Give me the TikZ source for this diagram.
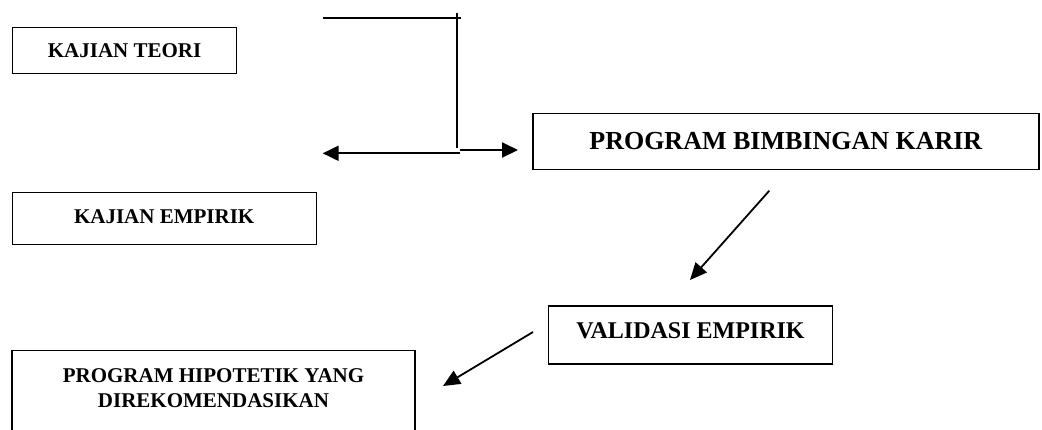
\documentclass[tikz,border=0pt]{standalone}
\usepackage{fontspec}
\setmainfont{Liberation Serif}
\usetikzlibrary{arrows.meta}
\begin{document}
\begin{tikzpicture}[x=1pt,y=-1pt,
  box/.style={draw,line width=1.4pt,rectangle,inner sep=0pt},
  conn/.style={line width=2.2pt},
  arr/.style={line width=2pt,-{Triangle[length=16pt,width=15pt]}},
  darr/.style={line width=1.8pt,-{Triangle[length=17pt,width=15pt]}}]
\useasboundingbox (0,0) rectangle (1042,429);
\clip (0,0) rectangle (1042,429);
% boxes
\node[box,minimum width=224pt,minimum height=46pt,font=\bfseries\fontsize{21}{25}\selectfont] (teori) at (124.6,50.3) {KAJIAN TEORI};
\node[box,minimum width=304pt,minimum height=52pt,text depth=4pt,font=\bfseries\fontsize{21}{25}\selectfont] (empirik) at (164.2,218.2) {KAJIAN EMPIRIK};
\node[box,minimum width=506pt,minimum height=56pt,font=\bfseries\fontsize{26}{30}\selectfont] (pbk) at (785.8,141.4) {PROGRAM BIMBINGAN KARIR};
\node[box,minimum width=284pt,minimum height=58pt,text depth=9pt,font=\bfseries\fontsize{24}{28}\selectfont] (validasi) at (690.5,334.9) {VALIDASI EMPIRIK};
\node[box,anchor=north,minimum width=403pt,inner ysep=18pt,text depth=110pt,align=center,font=\bfseries\fontsize{21}{25}\selectfont] (phyk) at (213.5,349.5) {PROGRAM HIPOTETIK YANG\\DIREKOMENDASIKAN};
% connectors
\coordinate (tl) at (323,17.7);
\coordinate (tr) at (461,17.7);
\draw[conn] (tl) -- (tr);
\coordinate (vt) at (456.7,12.7);
\coordinate (vb) at (456.7,148);
\draw[conn] (vt) -- (vb);
\coordinate (ls) at (460,153.3);
\coordinate (le) at (322.7,153.3);
\draw[arr] (ls) -- (le);
\coordinate (rs) at (460,150);
\coordinate (re) at (518,150);
\draw[arr] (rs) -- (re);
\coordinate (d1s) at (769.3,190.7);
\coordinate (d1e) at (690,280);
\draw[darr] (d1s) -- (d1e);
\coordinate (d2s) at (533,332);
\coordinate (d2e) at (443,386);
\draw[darr] (d2s) -- (d2e);
\end{tikzpicture}
\end{document}
